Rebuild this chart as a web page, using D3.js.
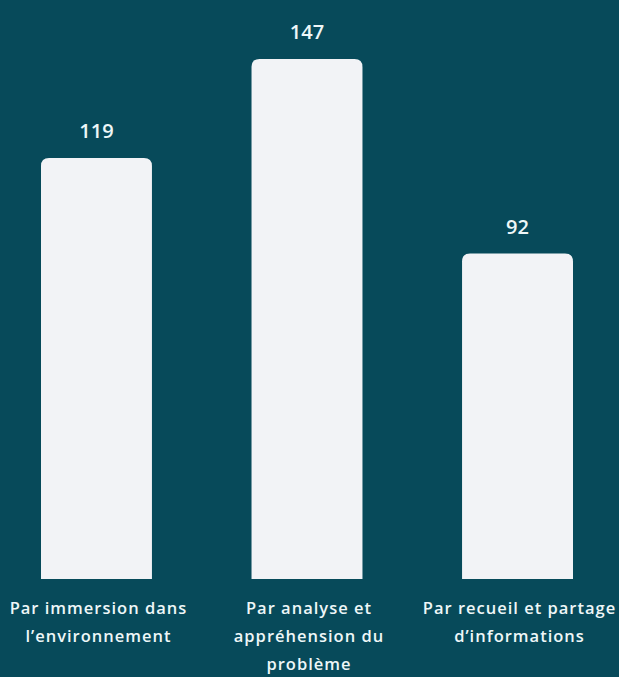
<!DOCTYPE html>
<html>
<head>
<meta charset="utf-8">
<script src="https://cdn.jsdelivr.net/npm/d3@7"></script>
<style>
  html, body { margin: 0; padding: 0; background: #074a5a; }
  svg { display: block; }
</style>
</head>
<body>
<svg id="chart" width="619" height="677"></svg>
<script>
// Categories (each label split into lines) and their counts
const categories = [
  ["Par immersion dans", "l\u2019environnement"],
  ["Par analyse et", "appréhension du", "problème"],
  ["Par recueil et partage", "d\u2019informations"]
];
const values = [119, 147, 92];

const width = 619, height = 677;
const bg = "#074a5a";
const barColor = "#f2f3f6";
const textColor = "#eef7f8";
const font = "'Open Sans', sans-serif";

const svg = d3.select("#chart");
svg.append("rect").attr("width", width).attr("height", height).attr("fill", bg);

const ids = categories.map((d, i) => i);
const x = d3.scaleBand().domain(ids).range([41, 573]).paddingInner(0.473).paddingOuter(0);
const y = d3.scaleLinear().domain([0, 147]).range([579, 59]);

// Bars with rounded top corners
function barPath(x0, y0, w, h, r) {
  return `M${x0},${y0 + h}V${y0 + r}Q${x0},${y0} ${x0 + r},${y0}H${x0 + w - r}Q${x0 + w},${y0} ${x0 + w},${y0 + r}V${y0 + h}Z`;
}

svg.selectAll("path.bar")
  .data(values)
  .join("path")
  .attr("class", "bar")
  .attr("fill", barColor)
  .attr("d", (d, i) => barPath(x(i), y(d), x.bandwidth(), y(0) - y(d), 8));

// Value labels above bars
svg.selectAll("text.value")
  .data(values)
  .join("text")
  .attr("class", "value")
  .attr("x", (d, i) => x(i) + x.bandwidth() / 2)
  .attr("y", d => y(d) - 20)
  .attr("text-anchor", "middle")
  .attr("fill", textColor)
  .attr("font-family", font)
  .attr("font-weight", 600)
  .attr("font-size", 20)
  .text(d => d);

// Category labels below the baseline
const labels = svg.selectAll("text.cat")
  .data(categories)
  .join("text")
  .attr("class", "cat")
  .attr("text-anchor", "middle")
  .attr("fill", textColor)
  .attr("font-family", font)
  .attr("font-weight", 600)
  .attr("font-size", 16.5)
  .attr("letter-spacing", 1.0)
  .attr("y", 614);

labels.selectAll("tspan")
  .data((d, i) => d.map(line => ({ line, i })))
  .join("tspan")
  .attr("x", d => x(d.i) + x.bandwidth() / 2 + 2)
  .attr("dy", (d, j) => j === 0 ? 0 : 28)
  .text(d => d.line);
</script>
</body>
</html>
